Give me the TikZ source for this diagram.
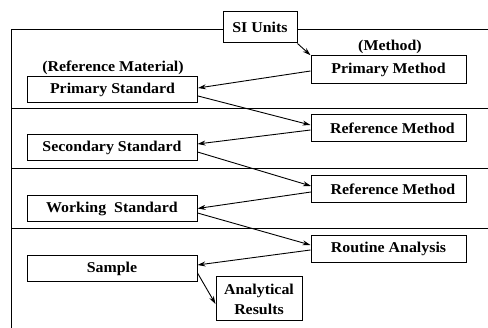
\documentclass[tikz,border=0pt]{standalone}
\usepackage{fontspec}
\setmainfont{Liberation Serif}[FakeStretch=1.06]
\usetikzlibrary{arrows.meta,calc}
\begin{document}
\begin{tikzpicture}[x=1pt,y=-1pt,
  font=\fontsize{15}{17}\selectfont\bfseries,
  box/.style={draw,line width=1pt,inner sep=0pt,minimum height=26pt,align=center},
  stdbox/.style={box,minimum width=170pt},
  methbox/.style={box,minimum width=155pt,minimum height=27.5pt},
  frame/.style={line width=1pt},
  link/.style={line width=0.9pt,-{Stealth[length=8pt,width=5pt]}}]
\useasboundingbox (0,0) rectangle (488,328);

% left column: standards
\node[stdbox] (ps) at (112.5,90) {Primary Standard};
\node[stdbox] (ss) at (112,148) {Secondary Standard};
\node[stdbox] (ws) at (112,209) {Working\ \ Standard};
\node[stdbox] (sa) at (112,269) {Sample};
\node[box,minimum width=86pt,minimum height=44pt] (ar) at (259,299) {Analytical\\[3pt]Results};

% right column: methods
\node[methbox] (pm) at (388.5,69.5) {Primary Method};
\node[methbox] (rm1) at (388.5,128) {\hspace{8pt}Reference Method};
\node[methbox] (rm2) at (389,189) {\hspace{8pt}Reference Method};
\node[methbox] (ra) at (388.5,249) {Routine Analysis};

% top
\node[box,minimum width=74pt,minimum height=31pt] (si) at (260,27.5) {SI Units};

% captions
\node (refmat) at (113,68) {(Reference Material)};
\node (meth) at (390,47) {(Method)};

% frame and level dividers
\coordinate (tl) at (11,29.5);
\draw[frame] (si.west |- tl) -- (tl) -- (11,330);
\draw[frame] (si.east |- tl) -- (490,29.5);
\draw[frame] (11,109) -- (490,109);
\draw[frame] (11,168.5) -- (490,168.5);
\draw[frame] (11,229) -- (490,229);

% traceability links
\draw[link] (si.south east) -- (pm.north west);
\draw[link] ($(pm.west)+(0,1.5)$) -- ($(ps.east)+(0,-2)$);
\draw[link] ($(ps.east)+(0,6)$) -- ($(rm1.west)+(0,-3)$);
\draw[link] ($(rm1.west)+(0,2)$) -- ($(ss.east)+(0,-4)$);
\draw[link] ($(ss.east)+(0,4)$) -- ($(rm2.west)+(0,-3)$);
\draw[link] ($(rm2.west)+(0,3)$) -- ($(ws.east)+(0,-0.5)$);
\draw[link] ($(ws.east)+(0,4)$) -- ($(ra.west)+(0,-4)$);
\draw[link] ($(ra.west)+(0,1)$) -- ($(sa.east)+(0,-4)$);
\draw[link] ($(sa.east)+(0,4)$) -- ($(ar.west)+(0,5)$);
\end{tikzpicture}
\end{document}
